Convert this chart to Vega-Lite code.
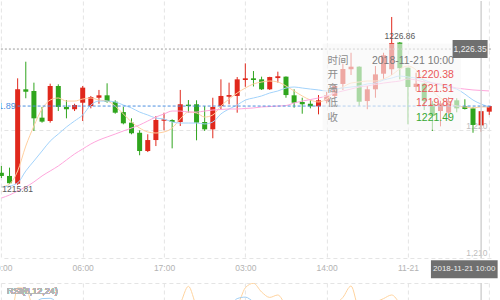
{
  "$schema": "https://vega.github.io/schema/vega-lite/v6.json",
  "background": "white",
  "padding": {"left": -10.1, "top": 0, "right": 0, "bottom": 0},
  "bounds": "flush",
  "spacing": 25,
  "config": {
    "view": {"stroke": null},
    "font": "Liberation Sans",
    "axis": {"minExtent": 0, "labelFont": "Liberation Sans"},
    "scale": {"continuousPadding": 0}
  },
  "datasets": {
    "candles": [
      {"k":0,"o":1216.67,"h":1217.20,"l":1216.26,"c":1216.42,"ma5":1215.56,"ma10":1215.56,"ma30":1214.69},
      {"k":1,"o":1216.42,"h":1217.07,"l":1215.80,"c":1215.85,"ma5":1215.79,"ma10":1215.63,"ma30":1214.93},
      {"k":2,"o":1215.81,"h":1224.06,"l":1215.72,"c":1223.20,"ma5":1216.81,"ma10":1215.87,"ma30":1215.24},
      {"k":3,"o":1223.20,"h":1225.36,"l":1222.50,"c":1223.01,"ma5":1218.76,"ma10":1216.81,"ma30":1215.56},
      {"k":4,"o":1223.07,"h":1223.72,"l":1219.94,"c":1220.93,"ma5":1220.33,"ma10":1217.59,"ma30":1215.95},
      {"k":5,"o":1220.98,"h":1221.82,"l":1220.59,"c":1220.67,"ma5":1221.66,"ma10":1218.37,"ma30":1216.42},
      {"k":6,"o":1220.72,"h":1223.64,"l":1220.59,"c":1223.46,"ma5":1222.36,"ma10":1219.15,"ma30":1216.81},
      {"k":7,"o":1223.46,"h":1223.59,"l":1221.50,"c":1221.82,"ma5":1222.52,"ma10":1219.70,"ma30":1217.20},
      {"k":8,"o":1221.82,"h":1222.36,"l":1220.93,"c":1221.64,"ma5":1222.28,"ma10":1220.25,"ma30":1217.67},
      {"k":9,"o":1221.64,"h":1222.07,"l":1221.50,"c":1221.97,"ma5":1222.28,"ma10":1220.72,"ma30":1218.14},
      {"k":10,"o":1222.15,"h":1223.46,"l":1220.72,"c":1223.33,"ma5":1222.44,"ma10":1221.19,"ma30":1218.53},
      {"k":11,"o":1221.89,"h":1222.68,"l":1221.71,"c":1222.60,"ma5":1222.52,"ma10":1221.97,"ma30":1218.92},
      {"k":12,"o":1222.54,"h":1223.15,"l":1222.07,"c":1222.73,"ma5":1222.36,"ma10":1222.28,"ma30":1219.23},
      {"k":13,"o":1222.73,"h":1223.67,"l":1222.15,"c":1222.21,"ma5":1222.28,"ma10":1222.28,"ma30":1219.47},
      {"k":14,"o":1222.23,"h":1222.34,"l":1221.29,"c":1221.37,"ma5":1221.89,"ma10":1222.21,"ma30":1219.70},
      {"k":15,"o":1221.42,"h":1221.82,"l":1220.46,"c":1220.54,"ma5":1221.27,"ma10":1221.97,"ma30":1219.94},
      {"k":16,"o":1220.59,"h":1220.93,"l":1219.68,"c":1219.76,"ma5":1220.64,"ma10":1221.74,"ma30":1220.17},
      {"k":17,"o":1219.80,"h":1219.99,"l":1218.04,"c":1218.37,"ma5":1220.17,"ma10":1221.42,"ma30":1220.41},
      {"k":18,"o":1218.37,"h":1219.68,"l":1218.29,"c":1219.23,"ma5":1219.86,"ma10":1221.19,"ma30":1220.72},
      {"k":19,"o":1219.23,"h":1221.11,"l":1218.76,"c":1220.80,"ma5":1219.78,"ma10":1220.95,"ma30":1221.03},
      {"k":20,"o":1220.74,"h":1221.37,"l":1219.99,"c":1220.85,"ma5":1219.86,"ma10":1220.88,"ma30":1221.27},
      {"k":21,"o":1220.80,"h":1220.85,"l":1218.58,"c":1220.64,"ma5":1220.17,"ma10":1220.64,"ma30":1221.50},
      {"k":22,"o":1220.64,"h":1223.15,"l":1220.33,"c":1222.03,"ma5":1220.88,"ma10":1220.56,"ma30":1221.50},
      {"k":23,"o":1222.00,"h":1222.36,"l":1221.37,"c":1221.89,"ma5":1221.42,"ma10":1220.56,"ma30":1221.42},
      {"k":24,"o":1222.03,"h":1222.34,"l":1219.21,"c":1220.59,"ma5":1221.35,"ma10":1220.56,"ma30":1221.42},
      {"k":25,"o":1220.64,"h":1221.89,"l":1219.94,"c":1220.07,"ma5":1221.03,"ma10":1220.49,"ma30":1221.50},
      {"k":26,"o":1220.07,"h":1222.54,"l":1219.37,"c":1221.82,"ma5":1221.19,"ma10":1220.64,"ma30":1221.58},
      {"k":27,"o":1221.89,"h":1223.98,"l":1221.64,"c":1222.68,"ma5":1221.89,"ma10":1221.27,"ma30":1221.62},
      {"k":28,"o":1222.62,"h":1223.72,"l":1222.03,"c":1222.75,"ma5":1222.44,"ma10":1221.66,"ma30":1221.66},
      {"k":29,"o":1222.68,"h":1224.16,"l":1221.37,"c":1223.98,"ma5":1222.91,"ma10":1221.97,"ma30":1221.66},
      {"k":30,"o":1223.93,"h":1225.23,"l":1223.40,"c":1224.06,"ma5":1223.30,"ma10":1222.36,"ma30":1221.70},
      {"k":31,"o":1224.06,"h":1224.63,"l":1223.42,"c":1223.93,"ma5":1223.62,"ma10":1222.52,"ma30":1221.74},
      {"k":32,"o":1223.98,"h":1224.19,"l":1223.15,"c":1223.20,"ma5":1223.77,"ma10":1222.68,"ma30":1221.82},
      {"k":33,"o":1223.20,"h":1224.18,"l":1223.15,"c":1224.16,"ma5":1223.85,"ma10":1222.91,"ma30":1221.85},
      {"k":34,"o":1224.08,"h":1224.58,"l":1223.72,"c":1224.22,"ma5":1223.77,"ma10":1223.07,"ma30":1221.89},
      {"k":35,"o":1224.19,"h":1224.21,"l":1222.54,"c":1222.75,"ma5":1223.46,"ma10":1223.30,"ma30":1221.93},
      {"k":36,"o":1222.73,"h":1223.20,"l":1221.76,"c":1222.15,"ma5":1223.07,"ma10":1223.38,"ma30":1222.13},
      {"k":37,"o":1222.21,"h":1222.54,"l":1221.29,"c":1222.03,"ma5":1222.68,"ma10":1223.30,"ma30":1222.28},
      {"k":38,"o":1222.07,"h":1222.34,"l":1221.71,"c":1221.87,"ma5":1222.36,"ma10":1223.22,"ma30":1222.40},
      {"k":39,"o":1221.87,"h":1222.75,"l":1221.24,"c":1222.34,"ma5":1222.21,"ma10":1223.15,"ma30":1222.52},
      {"k":40,"o":1222.28,"h":1223.00,"l":1222.10,"c":1222.73,"ma5":1222.44,"ma10":1223.07,"ma30":1222.68},
      {"k":41,"o":1222.68,"h":1223.60,"l":1222.50,"c":1223.46,"ma5":1223.07,"ma10":1223.22,"ma30":1222.91},
      {"k":42,"o":1223.62,"h":1225.20,"l":1223.15,"c":1224.79,"ma5":1223.38,"ma10":1223.30,"ma30":1223.07},
      {"k":43,"o":1224.77,"h":1226.06,"l":1224.32,"c":1224.97,"ma5":1223.69,"ma10":1223.38,"ma30":1223.22},
      {"k":44,"o":1224.97,"h":1225.00,"l":1221.90,"c":1222.23,"ma5":1223.77,"ma10":1223.46,"ma30":1223.38},
      {"k":45,"o":1222.28,"h":1223.46,"l":1221.64,"c":1223.20,"ma5":1223.85,"ma10":1223.62,"ma30":1223.46},
      {"k":46,"o":1223.20,"h":1225.02,"l":1222.54,"c":1224.37,"ma5":1223.85,"ma10":1223.69,"ma30":1223.58},
      {"k":47,"o":1224.42,"h":1226.06,"l":1223.98,"c":1225.86,"ma5":1224.01,"ma10":1223.93,"ma30":1223.69},
      {"k":48,"o":1224.77,"h":1228.86,"l":1224.32,"c":1226.82,"ma5":1224.32,"ma10":1224.08,"ma30":1223.77},
      {"k":49,"o":1226.86,"h":1226.90,"l":1223.98,"c":1224.85,"ma5":1224.79,"ma10":1224.24,"ma30":1223.85},
      {"k":50,"o":1224.89,"h":1224.89,"l":1220.46,"c":1223.38,"ma5":1225.02,"ma10":1224.16,"ma30":1224.01},
      {"k":51,"o":1223.38,"h":1224.50,"l":1223.07,"c":1223.64,"ma5":1224.71,"ma10":1224.08,"ma30":1223.93},
      {"k":52,"o":1223.64,"h":1223.70,"l":1221.58,"c":1222.28,"ma5":1223.85,"ma10":1223.93,"ma30":1223.77},
      {"k":53,"o":1222.07,"h":1222.28,"l":1219.94,"c":1221.11,"ma5":1223.07,"ma10":1223.69,"ma30":1223.69},
      {"k":54,"o":1221.50,"h":1222.30,"l":1220.30,"c":1222.10,"ma5":1222.52,"ma10":1223.54,"ma30":1223.62},
      {"k":55,"o":1221.37,"h":1222.60,"l":1220.80,"c":1222.28,"ma5":1222.13,"ma10":1223.38,"ma30":1223.46},
      {"k":56,"o":1222.34,"h":1222.50,"l":1221.40,"c":1221.71,"ma5":1221.89,"ma10":1223.22,"ma30":1223.30},
      {"k":57,"o":1221.87,"h":1222.42,"l":1221.62,"c":1221.66,"ma5":1221.82,"ma10":1222.83,"ma30":1223.22},
      {"k":58,"o":1221.71,"h":1221.80,"l":1219.80,"c":1220.41,"ma5":1221.74,"ma10":1222.36,"ma30":1223.15},
      {"k":59,"o":1220.38,"h":1221.51,"l":1219.87,"c":1221.49,"ma5":1221.82,"ma10":1222.05,"ma30":1223.11},
      {"k":60,"o":1221.45,"h":1221.89,"l":1221.20,"c":1221.89,"ma5":1221.82,"ma10":1221.82,"ma30":1223.07}
    ],
    "rsi": [
      {"k":0,"rsi6":30,"rsi12":35},{"k":1,"rsi6":28,"rsi12":33},{"k":2,"rsi6":92,"rsi12":60},
      {"k":3,"rsi6":91,"rsi12":62},{"k":4,"rsi6":55,"rsi12":66},{"k":5,"rsi6":48,"rsi12":74},
      {"k":6,"rsi6":62,"rsi12":74.5},{"k":7,"rsi6":50,"rsi12":66},{"k":8,"rsi6":48,"rsi12":60},
      {"k":9,"rsi6":52,"rsi12":58},{"k":10,"rsi6":66,"rsi12":60},{"k":11,"rsi6":62,"rsi12":60},
      {"k":12,"rsi6":63,"rsi12":61},{"k":13,"rsi6":55,"rsi12":58},{"k":14,"rsi6":45,"rsi12":54},
      {"k":15,"rsi6":38,"rsi12":50},{"k":16,"rsi6":32,"rsi12":46},{"k":17,"rsi6":25,"rsi12":42},
      {"k":18,"rsi6":34,"rsi12":44},{"k":19,"rsi6":50,"rsi12":50},{"k":20,"rsi6":52,"rsi12":52},
      {"k":21,"rsi6":50,"rsi12":50},{"k":22,"rsi6":66,"rsi12":58},{"k":23,"rsi6":94.5,"rsi12":66},
      {"k":24,"rsi6":62,"rsi12":60},{"k":25,"rsi6":52,"rsi12":55},{"k":26,"rsi6":60,"rsi12":58},
      {"k":27,"rsi6":66,"rsi12":62},{"k":28,"rsi6":68,"rsi12":62},{"k":29,"rsi6":66,"rsi12":74},
      {"k":30,"rsi6":92,"rsi12":76.5},{"k":31,"rsi6":99.5,"rsi12":69},{"k":32,"rsi6":85,"rsi12":64},
      {"k":33,"rsi6":76,"rsi12":62},{"k":34,"rsi6":80,"rsi12":63},{"k":35,"rsi6":62,"rsi12":58},
      {"k":36,"rsi6":48,"rsi12":52},{"k":37,"rsi6":45,"rsi12":50},{"k":38,"rsi6":44,"rsi12":50},
      {"k":39,"rsi6":52,"rsi12":52},{"k":40,"rsi6":58,"rsi12":54},{"k":41,"rsi6":64,"rsi12":57},
      {"k":42,"rsi6":76,"rsi12":60},{"k":43,"rsi6":95,"rsi12":66},{"k":44,"rsi6":58,"rsi12":58},
      {"k":45,"rsi6":62,"rsi12":57},{"k":46,"rsi6":68,"rsi12":60},{"k":47,"rsi6":74,"rsi12":62},
      {"k":48,"rsi6":80,"rsi12":64},{"k":49,"rsi6":66,"rsi12":62},{"k":50,"rsi6":50,"rsi12":56},
      {"k":51,"rsi6":52,"rsi12":56},{"k":52,"rsi6":45,"rsi12":53},{"k":53,"rsi6":38,"rsi12":50},
      {"k":54,"rsi6":45,"rsi12":51},{"k":55,"rsi6":48,"rsi12":52},{"k":56,"rsi6":44,"rsi12":51},
      {"k":57,"rsi6":43,"rsi12":50},{"k":58,"rsi6":35,"rsi12":47},{"k":59,"rsi6":50,"rsi12":50},
      {"k":60,"rsi6":55,"rsi12":52}
    ],
    "pointer": [
      {"k": 59, "t": "2018-11-21 10:00", "price": 1226.35}
    ],
    "tip": [
      {"row": 0, "name": "时间", "value": "2018-11-21 10:00", "tone": "time"},
      {"row": 1, "name": "开", "value": "1220.38", "tone": "rise"},
      {"row": 2, "name": "高", "value": "1221.51", "tone": "rise"},
      {"row": 3, "name": "低", "value": "1219.87", "tone": "rise"},
      {"row": 4, "name": "收", "value": "1221.49", "tone": "fall"}
    ]
  },
  "vconcat": [
    {
      "width": 490,
      "height": 257,
      "data": {"name": "candles"},
      "layer": [
        {
          "mark": {"type": "rule", "strokeWidth": 1},
          "encoding": {
            "x": {
              "field": "k", "type": "quantitative",
              "scale": {"domain": [-0.06, 60.2], "nice": false, "zero": false, "padding": 0},
              "axis": {
                "values": [0, 10, 20, 30, 40, 50, 60],
                "labelExpr": "['19:00','06:00','17:00','03:00','14:00','11-21',''][round(datum.value / 10)]",
                "grid": true, "gridColor": "#e4e4e4", "gridDash": [4, 3],
                "domain": false, "ticks": false, "minExtent": 0,
                "labelColor": "#b3b3b3", "labelFontSize": 8.5, "labelPadding": 5.5,
                "labelFlush": false, "labelOverlap": false, "title": null
              }
            },
            "y": {
              "field": "l", "type": "quantitative",
              "scale": {"domain": [1210, 1230.11], "nice": false, "zero": false, "padding": 0},
              "axis": {
                "orient": "right", "values": [1210, 1220], "format": ",",
                "grid": true, "gridColor": "#e4e4e4", "gridDash": [4, 3],
                "domain": false, "ticks": false, "minExtent": 0,
                "labelAlign": "right", "labelBaseline": "bottom", "labelPadding": -4,
                "labelColor": "#bdbdbd", "labelFontSize": 8.5, "title": null
              }
            },
            "y2": {"field": "h"},
            "color": {"condition": {"test": "datum.c >= datum.o", "value": "#e0281c"}, "value": "#2fa51d"}
          }
        },
        {
          "mark": {"type": "bar", "size": 5},
          "encoding": {
            "x": {"field": "k", "type": "quantitative"},
            "y": {"field": "o", "type": "quantitative"},
            "y2": {"field": "c"},
            "color": {"condition": {"test": "datum.c >= datum.o", "value": "#e0281c"}, "value": "#2fa51d"}
          }
        },
        {
          "mark": {"type": "line", "interpolate": "monotone", "stroke": "#ffcf9f", "strokeWidth": 1},
          "encoding": {"x": {"field": "k", "type": "quantitative"}, "y": {"field": "ma5", "type": "quantitative"}}
        },
        {
          "mark": {"type": "line", "interpolate": "monotone", "stroke": "#a3d3fb", "strokeWidth": 1},
          "encoding": {"x": {"field": "k", "type": "quantitative"}, "y": {"field": "ma10", "type": "quantitative"}}
        },
        {
          "mark": {"type": "line", "interpolate": "monotone", "stroke": "#ffa6dc", "strokeWidth": 1},
          "encoding": {"x": {"field": "k", "type": "quantitative"}, "y": {"field": "ma30", "type": "quantitative"}}
        },
        {
          "transform": [{"filter": "datum.k == 60"}],
          "mark": {"type": "rule", "stroke": "#4a8fe2", "strokeDash": [3, 2], "strokeWidth": 1},
          "encoding": {
            "x": {"datum": 2},
            "x2": {"value": "width"},
            "y": {"field": "c", "type": "quantitative"}
          }
        },
        {
          "transform": [{"filter": "datum.k == 60"}],
          "mark": {"type": "text", "align": "right", "baseline": "middle", "dx": -2, "clip": true, "color": "#4a8fe2", "fontSize": 9},
          "encoding": {
            "x": {"datum": 2},
            "y": {"field": "c", "type": "quantitative"},
            "text": {"field": "c", "type": "quantitative", "format": ".2f"}
          }
        },
        {
          "transform": [{"filter": "datum.k == 49"}],
          "mark": {"type": "text", "align": "center", "baseline": "bottom", "dy": -2, "color": "#5a5a5a", "fontSize": 8.5},
          "encoding": {
            "x": {"field": "k", "type": "quantitative"},
            "y": {"field": "o", "type": "quantitative"},
            "text": {"field": "o", "type": "quantitative", "format": ".2f"}
          }
        },
        {
          "transform": [{"filter": "datum.k == 2"}],
          "mark": {"type": "text", "align": "center", "baseline": "top", "dy": 1, "color": "#5a5a5a", "fontSize": 8.5},
          "encoding": {
            "x": {"field": "k", "type": "quantitative"},
            "y": {"field": "o", "type": "quantitative"},
            "text": {"field": "o", "type": "quantitative", "format": ".2f"}
          }
        },
        {
          "data": {"name": "pointer"},
          "mark": {"type": "rule", "stroke": "#d2d2d2", "strokeWidth": 1.5},
          "encoding": {"x": {"field": "k", "type": "quantitative"}}
        },
        {
          "data": {"name": "pointer"},
          "mark": {"type": "rule", "stroke": "#9a9a9a", "strokeDash": [2, 2], "strokeWidth": 1},
          "encoding": {"y": {"field": "price", "type": "quantitative"}}
        },
        {
          "data": {"name": "pointer"},
          "mark": {"type": "rect", "fill": "#f7f7f7", "opacity": 0.62, "xOffset": -158.5, "x2Offset": -20.2, "yOffset": -5.2, "y2Offset": 80.8},
          "encoding": {
            "x": {"field": "k", "type": "quantitative"},
            "x2": {"field": "k"},
            "y": {"field": "price", "type": "quantitative"},
            "y2": {"field": "price"}
          }
        },
        {
          "data": {"name": "tip"},
          "mark": {"type": "text", "align": "left", "baseline": "middle", "dx": -153.7, "font": "Noto Sans CJK SC", "fontSize": 10.5, "color": "#8c8c8c"},
          "encoding": {
            "x": {"datum": 59},
            "y": {"datum": 1226.35},
            "yOffset": {"field": "row", "type": "quantitative", "scale": {"domain": [0, 4], "range": [11.8, 68.6]}},
            "text": {"field": "name"}
          }
        },
        {
          "data": {"name": "tip"},
          "mark": {"type": "text", "align": "right", "baseline": "middle", "dx": -27.2, "fontSize": 10.5},
          "encoding": {
            "x": {"datum": 59},
            "y": {"datum": 1226.35},
            "yOffset": {"field": "row", "type": "quantitative", "scale": {"domain": [0, 4], "range": [11.8, 68.6]}},
            "text": {"field": "value"},
            "color": {"field": "tone", "type": "nominal", "scale": {"domain": ["time", "rise", "fall"], "range": ["#7a7a7a", "#ea5858", "#37a832"]}, "legend": null}
          }
        },
        {
          "data": {"name": "pointer"},
          "mark": {"type": "rect", "fill": "#6f6f6f", "xOffset": -38.3, "x2Offset": -3.3, "yOffset": -9, "y2Offset": 9},
          "encoding": {
            "x": {"value": "width"},
            "x2": {"value": "width"},
            "y": {"field": "price", "type": "quantitative"},
            "y2": {"field": "price"}
          }
        },
        {
          "data": {"name": "pointer"},
          "mark": {"type": "text", "align": "center", "baseline": "middle", "dx": -20.8, "color": "#eeeeee", "fontSize": 8.5},
          "encoding": {
            "x": {"value": "width"},
            "y": {"field": "price", "type": "quantitative"},
            "text": {"field": "price", "type": "quantitative", "format": ",.2f"}
          }
        },
        {
          "data": {"name": "pointer"},
          "mark": {"type": "rect", "fill": "#6f6f6f", "xOffset": -50.2, "x2Offset": 16.5, "yOffset": 2.3, "y2Offset": 20.3},
          "encoding": {
            "x": {"field": "k", "type": "quantitative"},
            "x2": {"field": "k"},
            "y": {"value": "height"},
            "y2": {"value": "height"}
          }
        },
        {
          "data": {"name": "pointer"},
          "mark": {"type": "text", "align": "center", "baseline": "middle", "dx": -16.9, "dy": 11.3, "color": "#eeeeee", "fontSize": 8},
          "encoding": {
            "x": {"field": "k", "type": "quantitative"},
            "y": {"value": "height"},
            "text": {"field": "t"}
          }
        }
      ]
    },
    {
      "width": 490,
      "height": 18,
      "data": {"name": "rsi"},
      "layer": [
        {
          "mark": {"type": "line", "interpolate": "monotone", "clip": true, "stroke": "#ffd39e", "strokeWidth": 1},
          "encoding": {
            "x": {
              "field": "k", "type": "quantitative",
              "scale": {"domain": [-0.06, 60.2], "nice": false, "zero": false, "padding": 0},
              "axis": {
                "values": [0, 10, 20, 30, 40, 50, 60], "grid": true, "gridColor": "#e4e4e4", "gridDash": [4, 3],
                "labels": false, "ticks": false, "domain": false, "minExtent": 0, "title": null
              }
            },
            "y": {
              "field": "rsi6", "type": "quantitative",
              "scale": {"domain": [70, 100], "nice": false, "zero": false},
              "axis": {
                "values": [100], "grid": true, "gridColor": "#e4e4e4", "gridDash": [4, 3],
                "labels": false, "ticks": false, "domain": false, "minExtent": 0, "title": null
              }
            }
          }
        },
        {
          "mark": {"type": "line", "interpolate": "monotone", "clip": true, "stroke": "#9fcdf3", "strokeWidth": 1},
          "encoding": {
            "x": {"field": "k", "type": "quantitative"},
            "y": {"field": "rsi12", "type": "quantitative"}
          }
        },
        {
          "data": {"name": "pointer"},
          "mark": {"type": "rule", "stroke": "#d2d2d2", "strokeWidth": 1.5},
          "encoding": {"x": {"field": "k", "type": "quantitative"}}
        },
        {
          "mark": {"type": "text", "align": "left", "baseline": "top", "dx": 6, "dy": 4, "color": "#b5b5b5", "fontSize": 9},
          "encoding": {
            "x": {"datum": -0.06},
            "y": {"datum": 100},
            "text": {"value": "RSI(6,12,24)"}
          }
        }
      ]
    }
  ]
}
